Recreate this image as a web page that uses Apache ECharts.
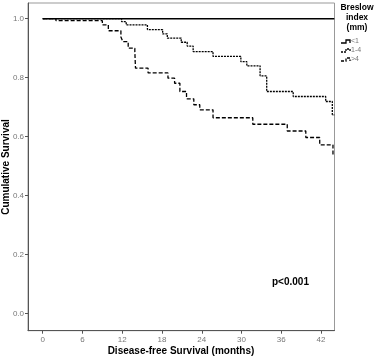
<!DOCTYPE html>
<html>
<head>
<meta charset="utf-8">
<script src="https://cdn.jsdelivr.net/npm/echarts@6/dist/echarts.min.js"></script>
<style>html,body{margin:0;padding:0;background:#fff}#c{width:375px;height:358px}</style>
</head>
<body>
<div id="c"></div>
<script>
const xTicks = [0, 6, 12, 18, 24, 30, 36, 42];
const yTicks = [0, 0.2, 0.4, 0.6, 0.8, 1.0];
const groupNames = ['<1', '1-4', '>4'];
// Kaplan-Meier steps: [time (months), survival after event]
const lt1 = [[0, 1.0], [44.0, 1.0]];
const mid = [[0, 1.0], [11.9, 0.990], [12.6, 0.979], [15.8, 0.963], [18.1, 0.948], [18.8, 0.934],
  [20.9, 0.920], [21.8, 0.907], [22.7, 0.888], [25.7, 0.872], [29.9, 0.854], [30.8, 0.840],
  [32.8, 0.806], [33.8, 0.753], [37.8, 0.736], [42.7, 0.719], [43.7, 0.674], [44.0, 0.674]];
const gt4 = [[0, 1.0], [2.0, 0.993], [9.0, 0.979], [9.9, 0.959], [11.8, 0.938], [12.1, 0.922],
  [12.9, 0.900], [13.9, 0.888], [14.0, 0.832], [15.9, 0.816], [18.9, 0.798], [19.9, 0.781],
  [20.7, 0.753], [21.7, 0.728], [22.8, 0.708], [23.7, 0.691], [25.7, 0.664], [31.7, 0.642],
  [36.9, 0.619], [39.7, 0.597], [41.8, 0.572], [43.8, 0.538], [44.0, 0.538]];
const pText = 'p<0.001';
const xTitle = 'Disease-free Survival (months)';
const yTitle = 'Cumulative Survival';

const font = '"Liberation Sans", Arial, sans-serif';
const chart = echarts.init(document.getElementById('c'), null, {renderer: 'canvas'});
chart.setOption({
  animation: false,
  backgroundColor: '#fff',
  grid: {left: 28, top: 3, right: 40.5, bottom: 27.3, show: true, borderColor: '#999', borderWidth: 1,
         containLabel: false, outerBoundsMode: 'none'},
  xAxis: {
    type: 'value', min: -2.22, max: 44.03,
    axisLine: {show: true, onZero: false, lineStyle: {color: '#555', width: 1}},
    axisTick: {show: true, length: 3, customValues: xTicks, lineStyle: {color: '#555'}},
    axisLabel: {customValues: xTicks, fontFamily: font, fontSize: 8, color: '#777', margin: 5},
    splitLine: {show: false}
  },
  yAxis: {
    type: 'value', min: -0.058, max: 1.053,
    axisLine: {show: true, onZero: false, lineStyle: {color: '#555', width: 1}},
    axisTick: {show: true, length: 3, customValues: yTicks, lineStyle: {color: '#555'}},
    axisLabel: {customValues: yTicks, formatter: v => v.toFixed(1), fontFamily: font, fontSize: 8, color: '#777', margin: 4},
    splitLine: {show: false}
  },
  series: [
    {name: groupNames[0], type: 'line', step: 'end', data: lt1, symbol: 'none', z: 3,
     lineStyle: {color: '#000', width: 1.5, type: 'solid'}},
    {name: groupNames[1], type: 'line', step: 'end', data: mid, symbol: 'none', z: 2,
     lineStyle: {color: '#000', width: 1.3, type: [2, 1]}},
    {name: groupNames[2], type: 'line', step: 'end', data: gt4, symbol: 'none', z: 2,
     lineStyle: {color: '#000', width: 1.3, type: [4, 2]}}
  ],
  graphic: [
    {type: 'text', x: 181, y: 351, style: {text: xTitle, font: 'bold 10px ' + font, fill: '#000', align: 'center', verticalAlign: 'middle'}},
    {type: 'text', x: 6, y: 167, rotation: Math.PI / 2, style: {text: yTitle, font: 'bold 10px ' + font, fill: '#000', align: 'center', verticalAlign: 'middle'}},
    {type: 'text', x: 357, y: 3, style: {text: 'Breslow', font: 'bold 8.5px ' + font, fill: '#000', align: 'center'}},
    {type: 'text', x: 357, y: 13, style: {text: 'index', font: 'bold 8.5px ' + font, fill: '#000', align: 'center'}},
    {type: 'text', x: 357, y: 23, style: {text: '(mm)', font: 'bold 8.5px ' + font, fill: '#000', align: 'center'}},
    {type: 'polyline', shape: {points: [[341, 43], [346, 43], [346, 40], [350, 40], [350, 43]]}, style: {stroke: '#000', lineWidth: 1.3, fill: null}},
    {type: 'polyline', shape: {points: [[341, 52], [346, 52], [346, 49], [350, 49], [350, 52]]}, style: {stroke: '#000', lineWidth: 1.3, lineDash: [2, 1], fill: null}},
    {type: 'polyline', shape: {points: [[341, 61], [346, 61], [346, 58], [350, 58], [350, 61]]}, style: {stroke: '#000', lineWidth: 1.3, lineDash: [3, 1.5], fill: null}},
    {type: 'text', x: 351, y: 38, style: {text: groupNames[0], font: '7px ' + font, fill: '#777'}},
    {type: 'text', x: 351, y: 47, style: {text: groupNames[1], font: '7px ' + font, fill: '#777'}},
    {type: 'text', x: 351, y: 56, style: {text: groupNames[2], font: '7px ' + font, fill: '#777'}},
    {type: 'text', x: 272, y: 277, style: {text: pText, font: 'bold 10px ' + font, fill: '#000'}}
  ]
});
</script>
</body>
</html>
